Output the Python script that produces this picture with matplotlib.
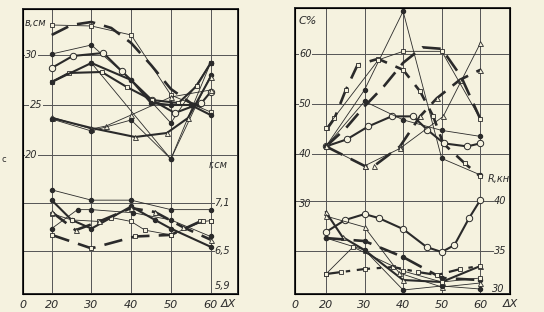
import matplotlib.pyplot as plt

# ---- left panel: b, cm (upper)  and r, cm (lower) vs dX ----
b1_x = [20, 25, 30, 35, 40, 45, 50, 55, 60]
b1_y = [32.0, 33.0, 33.3, 32.7, 31.2, 29.0, 26.6, 25.2, 24.5]
b2_x = [20, 30, 40, 50, 60]
b2_y = [33.0, 32.9, 32.0, 26.0, 24.3]
b3_x = [20, 30, 40, 50, 60]
b3_y = [30.1, 31.0, 27.5, 23.2, 29.2]
b4_x = [20, 25.3, 33, 37.6, 45.2, 51, 57.7, 60]
b4_y = [28.7, 29.9, 30.2, 28.4, 25.5, 24.2, 25.2, 26.3]
b5_x = [20, 24.3, 32.6, 38.9, 45.2, 51.9, 56.5, 60]
b5_y = [27.3, 28.2, 28.3, 26.8, 25.5, 25.2, 26.9, 29.2]
b6_x = [20, 30, 40, 45, 50, 55, 60]
b6_y = [27.3, 29.2, 27.5, 25.2, 25.0, 25.0, 24.0]
b7_x = [30, 50, 60]
b7_y = [29.2, 19.6, 28.0]
b8_x = [20, 30, 41, 49, 54.3, 60]
b8_y = [23.7, 22.7, 21.8, 22.2, 23.7, 27.8]
b9_x = [20, 30, 33.7, 40, 50, 60]
b9_y = [23.8, 22.6, 22.9, 24.0, 25.8, 26.5]
b10_x = [20, 30, 40, 50, 60]
b10_y = [23.6, 22.4, 23.5, 19.6, 29.2]

r1_x = [20, 30, 40, 50, 60]
r1_y = [7.27, 7.14, 7.14, 7.02, 7.02]
r2_x = [20, 30, 41, 50, 57.4, 60]
r2_y = [6.70, 6.53, 6.68, 6.70, 6.87, 6.88]
r3_x = [20, 25, 30, 40, 46, 50, 60]
r3_y = [7.14, 6.89, 6.78, 7.06, 6.89, 6.78, 6.55]
r4_x = [20, 25, 32, 35, 40, 43.5, 50, 58, 60]
r4_y = [6.97, 6.89, 6.87, 6.92, 6.87, 6.76, 6.70, 6.87, 6.88]
r5_x = [20, 26, 32, 40, 46, 53, 60]
r5_y = [6.99, 6.76, 6.87, 7.04, 6.99, 6.80, 6.64]
r6_x = [20, 26.5, 30, 40.5, 50, 60]
r6_y = [6.78, 7.02, 7.02, 6.98, 6.89, 6.68]

# ---- right panel: C, % (upper) and R, kN (lower) vs dX ----
c1_x = [20, 30, 40, 50, 60]
c1_y = [41.5, 52.8, 68.5, 39.1, 35.8]
c2_x = [20.4, 22.2, 25.1, 28.2, 33.5, 40, 44.4, 47.8, 50.4, 56, 60]
c2_y = [45.1, 47.1, 52.7, 57.8, 59.0, 56.8, 52.5, 47.5, 42.1, 38.1, 35.5]
c3_x = [20, 25, 30, 35, 40, 45, 50, 55, 60]
c3_y = [41.5, 45.0, 49.5, 53.5, 58.2, 61.3, 61.0, 55.5, 47.0]
c4_x = [20, 30, 32.5, 39.2, 44.4, 48.7, 54.7, 60]
c4_y = [41.5, 37.6, 37.6, 41.5, 47.5, 51.1, 54.8, 56.8]
c5_x = [20, 25.4, 31, 37, 42.6, 46.3, 50.6, 56.6, 60]
c5_y = [41.5, 42.9, 45.5, 47.5, 47.5, 44.8, 42.1, 41.5, 42.1]
c6_x = [20, 33.6, 40, 50, 60]
c6_y = [45.1, 58.8, 60.5, 60.5, 47.0]
c7_x = [20, 30, 40, 50, 60]
c7_y = [41.5, 50.5, 46.8, 44.7, 43.5]
c8_x = [20, 30, 39.2, 50.4, 60]
c8_y = [41.5, 37.6, 41.1, 47.5, 62.1]

R1_x = [20, 24.9, 30, 33.7, 40, 46.1, 50, 53.3, 57.1, 60]
R1_y = [36.9, 38.1, 38.7, 38.3, 37.2, 35.4, 34.9, 35.6, 38.3, 40.1]
R2_x = [20, 24.3, 30, 40, 50, 60]
R2_y = [38.9, 36.4, 35.1, 32.1, 31.9, 33.5]
R3_x = [20, 30, 40, 50, 60]
R3_y = [36.3, 36.0, 34.4, 32.3, 32.1]
R4_x = [20, 24, 30, 37.5, 43.8, 48.8, 54.8, 60]
R4_y = [32.7, 32.9, 33.2, 33.4, 32.9, 32.6, 33.2, 33.5]
R5_x = [20, 30, 39, 50, 60]
R5_y = [38.5, 37.4, 32.8, 31.4, 31.8]
R6_x = [20, 30, 40, 50, 60]
R6_y = [36.3, 35.1, 31.1, 31.5, 31.2]
R7_x = [20, 27, 40, 50, 60]
R7_y = [32.7, 35.4, 33.0, 31.9, 32.3]

xticks = [20, 30, 40, 50, 60]

paper = '#f5f2df'
ink = '#2a2a2a'

fig = plt.figure(figsize=(5.44, 3.12), dpi=100, facecolor=paper)


def curve(ax, x, y, kind, mk):
    if kind == 'dash':
        ax.plot(x, y, color=ink, lw=1.9, dashes=(7, 3.5))
    elif kind == 'thick':
        ax.plot(x, y, color=ink, lw=1.5)
    elif kind == 'dashdot':
        ax.plot(x, y, color=ink, lw=1.6, dashes=(6, 3, 2, 3))
    else:
        ax.plot(x, y, color=ink, lw=0.6)
    if mk == 'dot':
        ax.plot(x, y, 'o', ms=2.9, color=ink, ls='none')
    elif mk == 'circ':
        ax.plot(x, y, 'o', ms=4.6, mfc=paper, mec=ink, mew=0.7, ls='none')
    elif mk == 'sq':
        ax.plot(x, y, 's', ms=3.0, mfc=paper, mec=ink, mew=0.6, ls='none')
    elif mk == 'tri':
        ax.plot(x, y, '^', ms=3.6, mfc=paper, mec=ink, mew=0.6, ls='none')


def frame(ax, xlim, ylim):
    ax.set_facecolor(paper)
    ax.set_xlim(*xlim)
    ax.set_ylim(*ylim)
    ax.set_xticks([xlim[0]] + xticks)
    ax.set_xticklabels(['0'] + [str(t) for t in xticks], fontsize=8, style='italic')
    ax.tick_params(axis='x', length=0, pad=4, colors=ink)
    ax.set_yticks([])
    for s in ax.spines.values():
        s.set_linewidth(1.4)
        s.set_color(ink)
    for t in xticks:
        ax.axvline(t, color='#555', lw=0.7, zorder=0)


def lab(ax, x, y, s, size=7):
    ax.text(x, y, s, fontsize=size, style='italic', color=ink, ha='left', va='center',
            bbox=dict(facecolor=paper, edgecolor='none', pad=0.3), zorder=5)


# left panel
axL = fig.add_axes([0.0417, 0.0577, 0.3958, 0.9135])
frame(axL, (12.7, 66.9), (6.1, 34.6))
for v in [30, 25, 20]:
    axL.axhline(v, color='#555', lw=0.7, zorder=0)
axL2 = axL.twinx()
axL2.set_ylim(5.952, 9.56)
axL2.set_yticks([])
for v in [7.1, 6.5]:
    axL2.plot([12.7, 60.8], [v, v], color='#555', lw=0.7, zorder=0)

curve(axL, b1_x, b1_y, 'dash', None)
curve(axL, b2_x, b2_y, 'thin', 'sq')
curve(axL, b3_x, b3_y, 'thin', 'dot')
curve(axL, b4_x, b4_y, 'thick', 'circ')
curve(axL, b5_x, b5_y, 'thick', 'sq')
curve(axL, b6_x, b6_y, 'thick', 'dot')
curve(axL, b7_x, b7_y, 'thin', 'dot')
curve(axL, b8_x, b8_y, 'thick', 'tri')
curve(axL, b9_x, b9_y, 'thin', 'tri')
curve(axL, b10_x, b10_y, 'thin', 'dot')

curve(axL2, r1_x, r1_y, 'thin', 'dot')
curve(axL2, r2_x, r2_y, 'dash', 'sq')
curve(axL2, r3_x, r3_y, 'thick', 'dot')
curve(axL2, r4_x, r4_y, 'thin', 'sq')
curve(axL2, r5_x, r5_y, 'dash', 'tri')
curve(axL2, r6_x, r6_y, 'thin', 'dot')

lab(axL, 13.3, 33.2, 'в,см')
lab(axL, 13.3, 30, '30')
lab(axL, 14.5, 25, '25')
lab(axL, 13.3, 20, '20')
axL.text(59.5, 19.0, 'r,см', fontsize=7, style='italic', color=ink, va='center')
axL2.text(61.0, 7.1, '7,1', fontsize=7, style='italic', color=ink, va='center')
axL2.text(61.0, 6.5, '6,5', fontsize=7, style='italic', color=ink, va='center')
axL2.text(61.0, 6.05, '5,9', fontsize=7, style='italic', color=ink, va='center')
fig.text(221 / 544, 1 - 304 / 312, 'ΔX', fontsize=8, style='italic', color=ink,
         ha='left', va='center')
fig.text(2 / 544, 1 - 160 / 312, 'с', fontsize=6, color=ink, va='center')

# right panel
axR = fig.add_axes([0.5417, 0.0577, 0.3958, 0.9157])
frame(axR, (11.9, 67.7), (12, 69.1))
for v in [60, 50, 40]:
    axR.axhline(v, color='#555', lw=0.7, zorder=0)
axR2 = axR.twinx()
axR2.set_ylim(30.7, 59.3)
axR2.set_yticks([])
for v in [40, 35]:
    axR2.plot([11.9, 63.3], [v, v], color='#555', lw=0.7, zorder=0)

curve(axR, c1_x, c1_y, 'thin', 'dot')
curve(axR, c2_x, c2_y, 'dash', 'sq')
curve(axR, c3_x, c3_y, 'dash', None)
curve(axR, c4_x, c4_y, 'dash', 'tri')
curve(axR, c5_x, c5_y, 'thick', 'circ')
curve(axR, c6_x, c6_y, 'thin', 'sq')
curve(axR, c7_x, c7_y, 'thin', 'dot')
curve(axR, c8_x, c8_y, 'thin', 'tri')

curve(axR2, R1_x, R1_y, 'thick', 'circ')
curve(axR2, R2_x, R2_y, 'thick', 'tri')
curve(axR2, R3_x, R3_y, 'dash', 'dot')
curve(axR2, R4_x, R4_y, 'dashdot', 'sq')
curve(axR2, R5_x, R5_y, 'thin', 'tri')
curve(axR2, R6_x, R6_y, 'thin', 'dot')
curve(axR2, R7_x, R7_y, 'thin', 'sq')

lab(axR, 13.0, 66.5, 'C%', 8)
lab(axR, 13.0, 60, '60')
lab(axR, 13.0, 50, '50')
lab(axR, 13.0, 40, '40')
lab(axR, 13.0, 30, '30')
axR2.text(63.5, 40, '40', fontsize=7, style='italic', color=ink, va='center')
axR2.text(63.5, 35, '35', fontsize=7, style='italic', color=ink, va='center')
axR2.text(63.0, 31.2, '30', fontsize=7, style='italic', color=ink, va='center')
axR2.text(62.0, 42.2, 'R,кн', fontsize=7, style='italic', color=ink, va='center')
fig.text(503 / 544, 1 - 304 / 312, 'ΔX', fontsize=8, style='italic', color=ink,
         ha='left', va='center')

fig.savefig('out.png', dpi=100, facecolor=paper)
